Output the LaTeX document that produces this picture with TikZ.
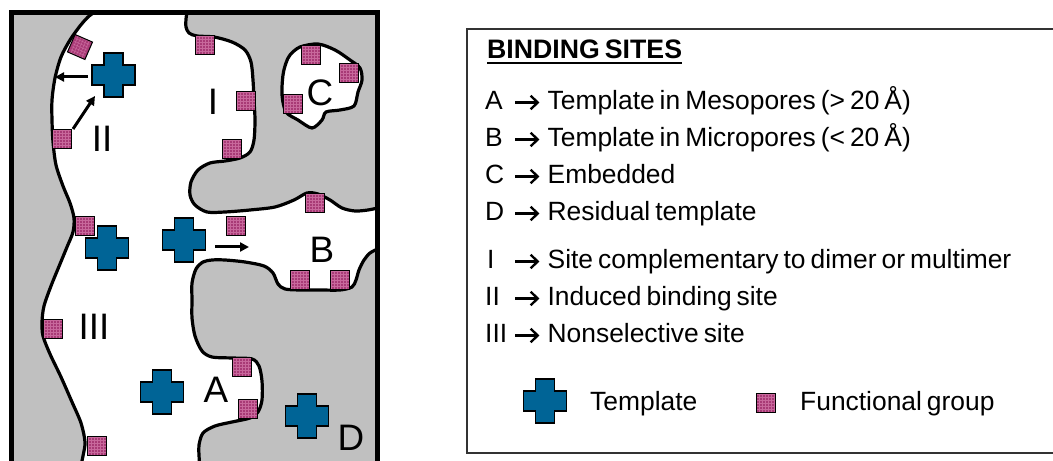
\documentclass[tikz,border=0pt]{standalone}
\usepackage{fontspec}
\setmainfont{Liberation Sans}
\usetikzlibrary{arrows.meta}
\definecolor{matrixgray}{RGB}{192,192,192}
\definecolor{tmplblue}{RGB}{0,100,150}
\definecolor{fgpink}{RGB}{168,58,118}
\definecolor{fggrid}{RGB}{200,104,156}
\newcommand\tightspaces{\spaceskip=5bp plus 2bp minus 1bp\relax}
% arrow glyph of the key
\newcommand\keyarrow{\tikz[baseline=0pt,x=1bp,y=1bp]
  \draw[line width=2.4bp, line cap=butt,
    -{Straight Barb[length=7bp,width=13.5bp,line width=2.4bp]}] (0,7.5) -- (24,7.5);}
% letter column, arrow, description
\newcommand\siteentry[2]{\tightspaces\makebox[29bp][l]{#1}\keyarrow\hspace{7bp}#2}
\begin{document}
\begin{tikzpicture}[x=1bp,y=-1bp,
  pore/.style={line width=3.2bp, line join=round, line cap=round},
  fgroup/.style={draw=black, line width=1bp, fill=fgpink, minimum size=19bp,
    inner sep=0pt, outer sep=0pt,
    path picture={\draw[fggrid, line width=0.5bp]
      ([shift={(-1bp,-1bp)}]path picture bounding box.south west) grid[step=3bp]
      ([shift={(1bp,1bp)}]path picture bounding box.north east);}},
  tmpl/.pic={\draw[line width=1.2bp, fill=tmplblue]
      (-9.5,-22) -- (9.5,-22) -- (9.5,-10) -- (21.5,-10) -- (21.5,10) -- (9.5,10)
      -- (9.5,22) -- (-9.5,22) -- (-9.5,10) -- (-21.5,10) -- (-21.5,-10) -- (-9.5,-10) -- cycle;
      \coordinate (-c) at (0,0);},
  move/.style={line width=3bp, -{Triangle[length=9bp,width=9bp]}},
  lbl/.style={inner sep=0pt, font=\fontsize{37}{40}\selectfont},
  txt/.style={anchor=base west, inner sep=0pt, font=\fontsize{26.5}{30}\selectfont},
]
\useasboundingbox (0,0) rectangle (1053,461);
\clip (0,0) rectangle (1053,461);

% ---------- porous polymer matrix ----------
% left wall
\draw[pore, fill=matrixgray] plot[smooth] coordinates {
  (94,12.5) (88,17) (80,26) (70,40) (61,57) (55,78) (52,100) (52,120) (53,142)
  (56,165) (63,186) (70,203) (74,218) (73,232) (67,247) (60,264) (51,286)
  (44,306) (42,322) (43,336) (50,354) (61,377) (72,402) (81,423) (85,442)
  (83,456) (80,470)} -- (11.5,470) -- (11.5,12.5) -- cycle;
% upper right block
\draw[pore, fill=matrixgray] plot[smooth] coordinates {
  (187,12.5) (186,19) (186,27) (189,33) (197,36) (214,37) (232,42) (245,50)
  (251,62) (253,80) (254,100) (255,120) (254,140) (250,152) (240,158) (225,161)
  (210,163) (198,170) (191,182) (190,195) (195,205) (207,212) (225,212)
  (250,210) (275,207) (294,200) (307,193) (318,194) (330,200) (342,208)
  (355,211) (368,210) (377.5,208)} -- (377.5,12.5) -- cycle;
% lower right block
\draw[pore, fill=matrixgray] plot[smooth] coordinates {
  (377.5,249) (370,253) (364,260) (359,270) (356,280) (352,287) (340,290)
  (320,290) (300,290) (285,289) (278,284) (273,273) (264,266) (245,262)
  (225,260) (212,260) (203,262) (196,269) (192,283) (192,300) (192,318)
  (195,336) (202,351) (212,357) (232,358) (252,359) (259,366) (262,381)
  (262,400) (258,412) (250,418) (232,422) (215,426) (203,433) (199,445)
  (199,455) (200,470)} -- (377.5,470) -- cycle;
% closed pore C
\draw[pore, fill=white] plot[smooth cycle] coordinates {
  (290,55) (300,47) (318,44) (335,50) (350,60) (360,68) (362,80) (358,92)
  (354,106) (340,110) (326,112) (322,120) (312,128) (298,120) (286,112)
  (282,95) (283,75) (286,63)};

% ---------- functional groups ----------
\node[fgroup, rotate=-23.5] (f1) at (80,47) {};
\node[fgroup] (f2) at (205,45) {};
\node[fgroup] (f3) at (246,101) {};
\node[fgroup] (f4) at (232,149) {};
\node[fgroup] (f5) at (62,139) {};
\node[fgroup] (f6) at (311,55) {};
\node[fgroup] (f7) at (349,73) {};
\node[fgroup] (f8) at (293,104) {};
\node[fgroup] (f9) at (315,203) {};
\node[fgroup] (f10) at (85,226) {};
\node[fgroup] (f11) at (236,226) {};
\node[fgroup] (f12) at (300,280) {};
\node[fgroup] (f13) at (340,280) {};
\node[fgroup] (f14) at (53,329) {};
\node[fgroup] (f15) at (242,367) {};
\node[fgroup] (f16) at (248,409) {};
\node[fgroup] (f17) at (97,446) {};

% ---------- templates ----------
\pic (t1) at (113.5,75) {tmpl};
\pic (t2) at (107,248) {tmpl};
\pic (t3) at (184,240) {tmpl};
\pic (t4) at (162,392) {tmpl};
\pic (t5) at (307,416) {tmpl};

% ---------- movement arrows ----------
\coordinate (a1s) at (88,77);  \coordinate (a1e) at (55,77);
\coordinate (a2s) at (73,129); \coordinate (a2e) at (95,96);
\coordinate (a3s) at (215,247); \coordinate (a3e) at (249,247);
\draw[move] (a1s) -- (a1e);
\draw[move] (a2s) -- (a2e);
\draw[move] (a3s) -- (a3e);

% ---------- site labels ----------
\node[lbl] (sI) at (213,102) {I};
\node[lbl] (sII) at (102,139) {II};
\node[lbl] (sC) at (320,93) {C};
\node[lbl] (sB) at (322,250) {B};
\node[lbl] (sIII) at (94,327) {III};
\node[lbl] (sA) at (216,390) {A};
\node[lbl] (sD) at (351,438) {D};

% outer frame
\draw[line width=4.5bp] (11.5,470) -- (11.5,12.5) -- (377.5,12.5) -- (377.5,470);

% ---------- key ----------
\draw[line width=2bp, black!80] (467,29) rectangle (1070,453);
\node[txt, font=\fontsize{26.8}{30}\selectfont\bfseries] (title) at (487,59) {\tightspaces BINDING SITES};
\draw[line width=2bp] ([yshift=-4.5bp]title.base west) -- ([yshift=-4.5bp]title.base east);
\node[txt] (kA) at (485,110) {\siteentry{A}{Template in Mesopores (> 20 Å)}};
\node[txt] (kB) at (485,147) {\siteentry{B}{Template in Micropores (< 20 Å)}};
\node[txt] (kC) at (485,184) {\siteentry{C}{Embedded}};
\node[txt] (kD) at (485,221) {\siteentry{D}{Residual template}};
\node[txt] (kI) at (485,269) {\siteentry{\hspace{2bp}I}{Site complementary to dimer or multimer}};
\node[txt] (kII) at (485,306) {\siteentry{II}{Induced binding site}};
\node[txt] (kIII) at (485,343) {\siteentry{III}{Nonselective site}};

\pic (lt) at (545,401) {tmpl};
\node[txt] (ltext) at (590,411) {Template};
\node[fgroup] (lf) at (765.5,403) {};
\node[txt] (lftext) at (800,411) {\tightspaces Functional group};
\end{tikzpicture}
\end{document}
